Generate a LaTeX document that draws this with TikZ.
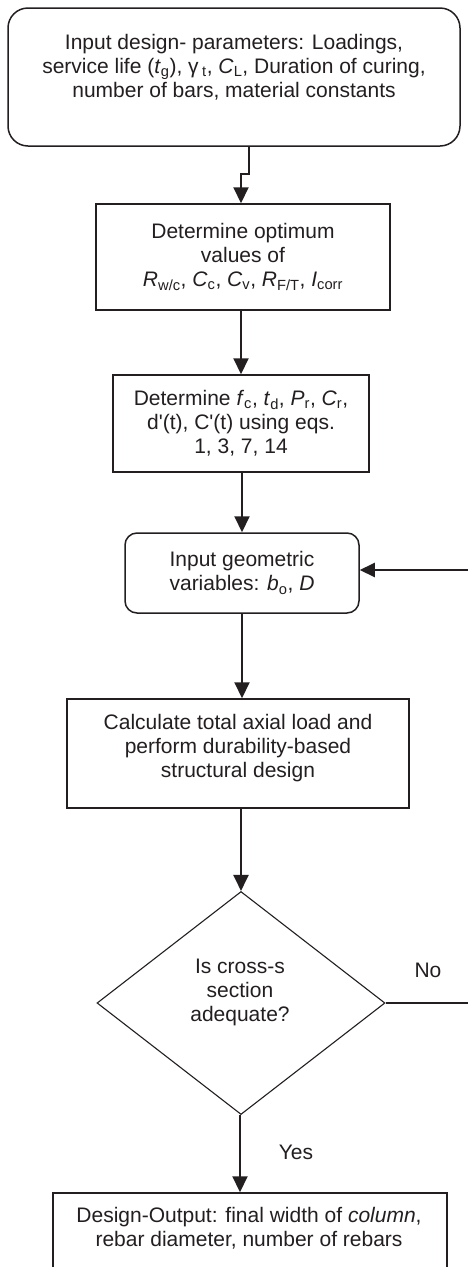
\documentclass[tikz,border=0pt]{standalone}
\usepackage{fontspec}
\setmainfont{Liberation Sans}
\usetikzlibrary{shapes.geometric,arrows.meta}
\definecolor{ink}{HTML}{231F20}
\begin{document}
\begin{tikzpicture}[x=1pt,y=-1pt,
  every node/.style={font=\fontsize{21}{24}\selectfont, text=ink, align=center},
  box/.style={draw=ink, line width=1.5pt, rectangle, inner sep=0pt},
  roundbox/.style={box, rounded corners=#1},
  txt/.style={inner sep=0pt},
  decision/.style={draw=ink, line width=1.1pt, diamond, inner sep=0pt},
  flow/.style={draw=ink, line width=2pt, -{Triangle[width=15pt,length=16pt]}},
  plain/.style={draw=ink, line width=1.3pt},
  back/.style={draw=ink, line width=2pt, -{Triangle[width=14pt,length=15pt]}}
]
\fill[white] (0,0) rectangle (467,1267);
\useasboundingbox (0,0) rectangle (467,1267);

% boxes
\node[roundbox=20pt, minimum width=452pt, minimum height=138pt] (top) at (234,77) {};
\node[txt] (toptxt) at (234,67.5) {Input design- parameters: Loadings,\\
  service life (\textit{t}\textsubscript{g}), γ\,\textsubscript{t}, \textit{C}\textsubscript{L}, Duration of curing,\\
  number of bars, material constants};

\node[box, minimum width=294pt, minimum height=106pt] (opt) at (243,257)
  {Determine optimum\\ values of\\
   \textit{R}\textsubscript{w/c}, \textit{C}\textsubscript{c}, \textit{C}\textsubscript{v}, \textit{R}\textsubscript{F/T}, \textit{I}\textsubscript{corr}};

\node[box, minimum width=256pt, minimum height=97pt] (det) at (241,423.5)
  {Determine \textit{f}\textsubscript{c}, \textit{t}\textsubscript{d}, \textit{P}\textsubscript{r}, \textit{C}\textsubscript{r},\\
   d\textquotesingle(t), C\textquotesingle(t) using eqs.\\ 1, 3, 7, 14};

\node[roundbox=12pt, minimum width=234pt, minimum height=80pt] (geo) at (242,573)
  {Input geometric\\ variables: \textit{b}\textsubscript{o}, \textit{D}};

\node[box, minimum width=342pt, minimum height=109pt] (calc) at (238,753.5) {};
\node[txt] (calctxt) at (238,748.5) {Calculate total axial load and\\
  perform durability-based\\ structural design};

\node[decision, minimum width=288pt, minimum height=223pt] (dia) at (241,1003) {};
\node[txt] (diatxt) at (240,992.5) {Is cross-s\\ section\\ adequate?};

\node[box, minimum width=394pt, minimum height=82pt] (out) at (250,1234) {};
\node[txt] (outtxt) at (249,1228.5) {Design-Output: final width of \textit{column},\\
  rebar diameter, number of rebars};

% connectors
\coordinate (jog) at (241,174);
\draw[flow] ([xshift=15pt]top.south) |- (jog) -- (jog |- opt.north);
\draw[flow] (opt.south -| det.north) -- (det.north);
\draw[flow] (det.south -| geo.north) -- (geo.north);
\draw[flow] (geo.south) -- (geo.south |- calc.north);
\draw[flow] (calc.south -| dia.north) -- (dia.north);
\draw[flow] ([xshift=-1pt]dia.south) -- ([xshift=-1pt]dia.south |- out.north);

% return path when the section fails
\coordinate (loop) at (482,800);
\draw[plain] (dia.east) -- (dia.east -| loop);
\draw[plain] (dia.east -| loop) -- ([yshift=3pt]geo.east -| loop);
\draw[back] ([yshift=3pt]geo.east -| loop) -- ([yshift=3pt]geo.east);

% branch labels
\node[txt] (no) at (428,970) {No};
\node[txt] (yes) at (296,1152) {Yes};
\end{tikzpicture}
\end{document}
